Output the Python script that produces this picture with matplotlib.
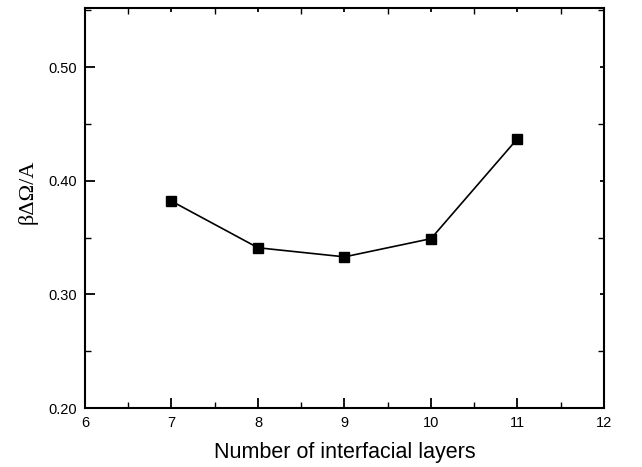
import matplotlib
matplotlib.use("Agg")
import matplotlib.pyplot as plt
from matplotlib.ticker import MultipleLocator, FormatStrFormatter

layers = [7, 8, 9, 10, 11]
beta_omega = [0.382, 0.341, 0.333, 0.349, 0.437]

plt.rcParams["font.family"] = ["Liberation Sans", "DejaVu Sans"]

fig = plt.figure(figsize=(6.42, 4.67), dpi=100)
ax = fig.add_axes([0.1324, 0.1263, 0.8084, 0.8567])

ax.plot(layers, beta_omega, color="black", lw=1.2, marker="s", ms=7,
        mfc="black", mec="black")

ax.set_xlim(6, 12)
ax.set_ylim(0.20, 0.552)
ax.xaxis.set_major_locator(MultipleLocator(1))
ax.xaxis.set_minor_locator(MultipleLocator(0.5))
ax.yaxis.set_major_locator(MultipleLocator(0.1))
ax.yaxis.set_minor_locator(MultipleLocator(0.05))
ax.yaxis.set_major_formatter(FormatStrFormatter("%.2f"))

for s in ax.spines.values():
    s.set_linewidth(1.5)

ax.tick_params(which="major", direction="in", length=7, width=1.3,
               labelsize=10.5, pad=6)
ax.tick_params(which="minor", direction="in", length=4, width=1.0)
ax.tick_params(which="both", top=True, right=True, labeltop=False,
               labelright=False)
# ticks on top/right are short
for tl in ax.xaxis.get_ticklines(minor=False)[1::2] + ax.yaxis.get_ticklines(minor=False)[1::2]:
    tl.set_markersize(3)

ax.set_xlabel("Number of interfacial layers", fontsize=15.5)
ax.xaxis.set_label_coords(0.5, -0.085)
ax.set_ylabel("βΔΩ/A", fontsize=16, family=["Liberation Serif", "DejaVu Serif"])
ax.yaxis.set_label_coords(-0.092, 0.54)

fig.savefig("out.png", dpi=100)
